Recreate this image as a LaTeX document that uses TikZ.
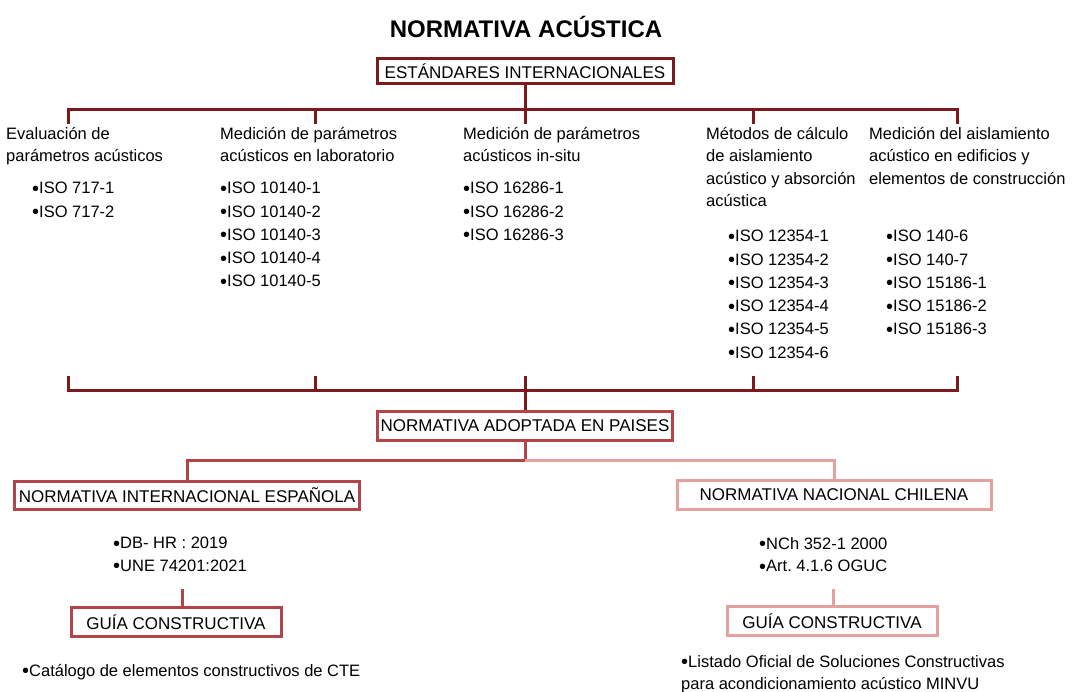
\documentclass[tikz,border=0pt]{standalone}
\usepackage{fontspec}
\setmainfont{Liberation Sans}
\usetikzlibrary{calc}
\definecolor{granate}{HTML}{7B1A1C}
\definecolor{rojo}{HTML}{B3454A}
\definecolor{rosa}{HTML}{E4A29E}
\newcommand\pto{\raisebox{-1.5pt}{\fontsize{20}{20}\selectfont •}}
\begin{document}
\begin{tikzpicture}[x=1pt,y=-1pt,
 caja/.style={line width=3pt,inner sep=0pt,text=black,font=\fontsize{17}{20}\selectfont},
 txt/.style={anchor=north west,inner sep=0pt,align=left,font=\fontsize{16.5}{22.5}\selectfont},
 lista/.style={txt,font=\fontsize{16.5}{23.3}\selectfont},
 linea/.style={line width=3pt}]
 \useasboundingbox (0,0) rectangle (1075,692);
 \node[font=\bfseries\fontsize{24}{26}\selectfont] (titulo) at (526,27) {NORMATIVA ACÚSTICA};
 \node[caja,draw=granate,minimum width=296,minimum height=25] (est) at (525,71) {ESTÁNDARES INTERNACIONALES};
 \foreach \x [count=\i] in {68,315,525,753,957}{
   \coordinate (a\i) at (\x,110); \coordinate (b\i) at (\x,124);
   \coordinate (d\i) at (\x,376); \coordinate (e\i) at (\x,390);}
 \draw[linea,granate] (b1)--(a1)--(a5)--(b5) (a2)--(b2) (a3)--(b3) (a4)--(b4) (est)--(a3);
 \node[txt] (h1) at (6,127) {Evaluación de\\parámetros acústicos};
 \node[txt] (h2) at (220,127) {Medición de parámetros\\acústicos en laboratorio};
 \node[txt] (h3) at (463,127) {Medición de parámetros\\acústicos in-situ};
 \node[txt] (h4) at (706,127) {Métodos de cálculo\\de aislamiento\\acústico y absorción\\acústica};
 \node[txt] (h5) at (869,127) {Medición del aislamiento\\acústico en edificios y\\elementos de construcción};
 \node[lista] (l1) at (32,182) {\pto ISO 717-1\\\pto ISO 717-2};
 \node[lista] (l2) at (220,182) {\pto ISO 10140-1\\\pto ISO 10140-2\\\pto ISO 10140-3\\\pto ISO 10140-4\\\pto ISO 10140-5};
 \node[lista] (l3) at (463,182) {\pto ISO 16286-1\\\pto ISO 16286-2\\\pto ISO 16286-3};
 \node[lista] (l4) at (728,230) {\pto ISO 12354-1\\\pto ISO 12354-2\\\pto ISO 12354-3\\\pto ISO 12354-4\\\pto ISO 12354-5\\\pto ISO 12354-6};
 \node[lista] (l5) at (886,230) {\pto ISO 140-6\\\pto ISO 140-7\\\pto ISO 15186-1\\\pto ISO 15186-2\\\pto ISO 15186-3};
 \draw[linea,granate] (d1)--(e1)--(e5)--(d5) (d2)--(e2) (d3)--(e3) (d4)--(e4);
 % normativa adoptada
 \node[caja,draw=rojo,minimum width=295,minimum height=29] (adop) at (525,426) {NORMATIVA ADOPTADA EN PAISES};
 \draw[linea,granate] (e3)--(adop);
 \coordinate (j) at (525,460);
 \node[caja,draw=rojo,minimum width=345,minimum height=28] (esp) at (187,495) {NORMATIVA INTERNACIONAL ESPAÑOLA};
 \node[caja,draw=rosa,minimum width=314,minimum height=29] (chi) at (834,494.5) {NORMATIVA NACIONAL CHILENA};
 \draw[linea,rojo] (adop)--(j)--(j -| esp)--(esp);
 \draw[linea,rosa] (j)--(j -| chi)--(chi);
 \node[txt] (n1) at (113,537) {\pto DB- HR : 2019\\\pto UNE 74201:2021};
 \node[txt] (n2) at (759,537) {\pto NCh 352-1 2000\\\pto Art.\ 4.1.6 OGUC};
 \node[caja,draw=rojo,minimum width=210,minimum height=29] (g1) at (176,622) {GUÍA CONSTRUCTIVA};
 \node[caja,draw=rosa,minimum width=210,minimum height=29] (g2) at (832,621) {GUÍA CONSTRUCTIVA};
 \coordinate (s1) at (182,589); \coordinate (s2) at (833,589);
 \draw[linea,rojo] (s1)--(s1 |- g1.north);
 \draw[linea,rosa] (s2)--(s2 |- g2.north);
 \node[txt] (c1) at (22,664) {\pto Catálogo de elementos constructivos de CTE};
 \node[txt] (c2) at (681,655) {\pto Listado Oficial de Soluciones Constructivas\\para acondicionamiento acústico MINVU};
\end{tikzpicture}
\end{document}
